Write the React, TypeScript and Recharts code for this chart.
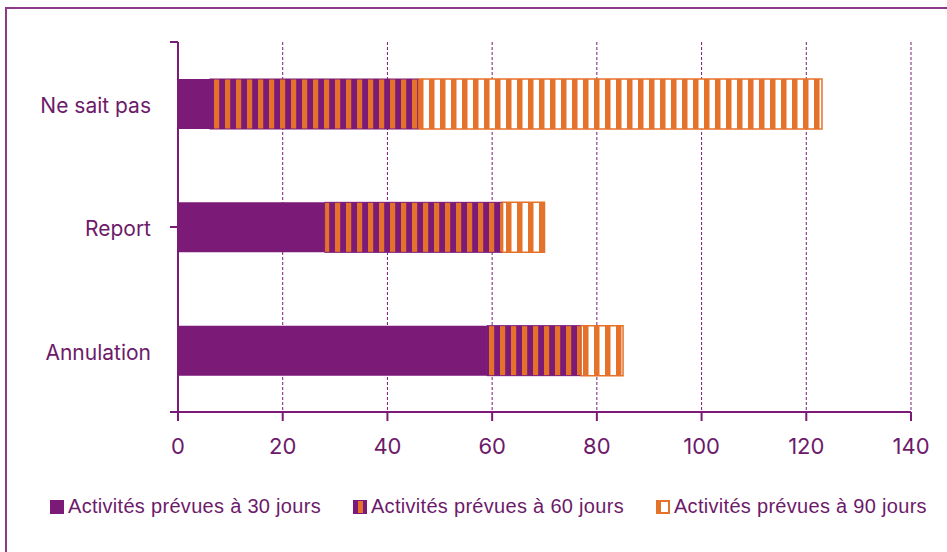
import { BarChart, Bar, XAxis, YAxis, CartesianGrid } from "recharts";

const categories = ["Ne sait pas", "Report", "Annulation"];
const jours30 = [6, 28, 59];
const jours60 = [40, 34, 18];
const jours90 = [77, 8, 8];
const xTicks = [0, 20, 40, 60, 80, 100, 120, 140];
const bandTicks = [0, 1, 2, 3];

const seriesNames = [
  "Activités prévues à 30 jours",
  "Activités prévues à 60 jours",
  "Activités prévues à 90 jours",
];

const PURPLE = "#7b1a77";
const ORANGE = "#e5722b";
const TEXT = "#6d1a6a";
const FRAME = "#8e3a8b";

const data = categories.map((name, i) => ({
  name,
  j30: jours30[i],
  j60: jours60[i],
  j90: jours90[i],
}));

function LegendIcon({ idx }: { idx: number }) {
  if (idx === 0)
    return (
      <svg width={14} height={14}>
        <rect x={0} y={0} width={14} height={14} fill={PURPLE} />
      </svg>
    );
  if (idx === 1)
    return (
      <svg width={14} height={14}>
        <rect x={0} y={0} width={14} height={14} fill={PURPLE} />
        <rect x={5} y={1} width={5} height={12} fill={ORANGE} />
      </svg>
    );
  return (
    <svg width={14} height={14}>
      <rect x={1} y={1} width={12} height={12} fill="#fff" stroke={ORANGE} strokeWidth={2} />
      <rect x={1} y={1} width={4} height={12} fill={ORANGE} />
    </svg>
  );
}

export default function App() {
  const tickFont = { fill: TEXT, fontSize: 21, fontFamily: "Inter" };
  return (
    <div style={{ position: "absolute", left: 0, top: 0, width: 947, height: 552, background: "#fff" }}>
      <div
        style={{
          position: "absolute",
          left: 5,
          top: 7,
          width: 942,
          height: 545,
          borderTop: `2.5px solid ${FRAME}`,
          borderLeft: `2.5px solid ${FRAME}`,
          boxSizing: "border-box",
        }}
      />
      <svg width={0} height={0} style={{ position: "absolute" }}>
        <defs>
          <pattern id="stripes60" patternUnits="userSpaceOnUse" width={11} height={11}>
            <rect x={0} y={0} width={11} height={11} fill={PURPLE} />
            <rect x={5} y={0} width={5.2} height={11} fill={ORANGE} />
          </pattern>
          <pattern id="stripes90" patternUnits="userSpaceOnUse" width={11} height={11}>
            <rect x={0} y={0} width={11} height={11} fill="#fff" />
            <rect x={0} y={0} width={5.5} height={11} fill={ORANGE} />
          </pattern>
        </defs>
      </svg>
      <div style={{ position: "absolute", left: 0, top: 0 }}>
        <BarChart
          width={947}
          height={552}
          data={data}
          layout="vertical"
          margin={{ top: 42, right: 36, bottom: 100, left: 0 }}
        >
          <CartesianGrid
            yAxisId="cat"
            horizontal={false}
            stroke={PURPLE}
            strokeDasharray="3 2"
          />
          <XAxis
            type="number"
            domain={[0, 140]}
            ticks={xTicks}
            height={40}
            tick={{ ...tickFont, fontSize: 22 }}
            tickSize={9}
            tickMargin={17}
            axisLine={{ stroke: PURPLE, strokeWidth: 2 }}
            tickLine={{ stroke: PURPLE, strokeWidth: 2 }}
            interval={0}
          />
          <YAxis
            yAxisId="band"
            type="number"
            scale="linear"
            domain={[0, 3]}
            ticks={bandTicks}
            allowDataOverflow
            width={1}
            tickFormatter={() => ""}
            tickSize={8}
            axisLine={{ stroke: PURPLE, strokeWidth: 2 }}
            tickLine={{ stroke: PURPLE, strokeWidth: 2 }}
            interval={0}
          />
          <YAxis
            yAxisId="cat"
            type="category"
            dataKey="name"
            width={177}
            tick={{ ...tickFont, dy: 2 }}
            tickSize={0}
            tickMargin={26}
            axisLine={false}
            tickLine={false}
          />
          <Bar
            yAxisId="cat"
            dataKey="j30"
            name={seriesNames[0]}
            stackId="a"
            barSize={50}
            fill={PURPLE}
            isAnimationActive={false}
          />
          <Bar
            yAxisId="cat"
            dataKey="j60"
            name={seriesNames[1]}
            stackId="a"
            barSize={50}
            fill="url(#stripes60)"
            stroke={PURPLE}
            strokeWidth={1}
            isAnimationActive={false}
          />
          <Bar
            yAxisId="cat"
            dataKey="j90"
            name={seriesNames[2]}
            stackId="a"
            barSize={50}
            fill="url(#stripes90)"
            stroke={ORANGE}
            strokeWidth={1.5}
            isAnimationActive={false}
          />
        </BarChart>
      </div>
      <div
        style={{
          position: "absolute",
          left: 50,
          top: 495,
          display: "flex",
          gap: 32,
          fontFamily: "Liberation Sans",
          fontSize: 20,
          letterSpacing: 0.3,
          color: TEXT,
          whiteSpace: "nowrap",
        }}
      >
        {seriesNames.map((s, i) => (
          <div key={s} style={{ display: "flex", alignItems: "center", gap: 4 }}>
            <LegendIcon idx={i} />
            <span>{s}</span>
          </div>
        ))}
      </div>
    </div>
  );
}
